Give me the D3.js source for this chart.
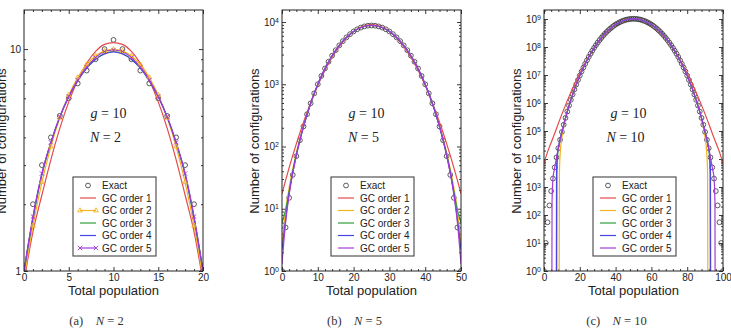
<!DOCTYPE html>
<html>
<head>
<meta charset="utf-8">
<script src="https://cdn.jsdelivr.net/npm/d3@7"></script>
<style>
  body { margin: 0; background: #fff; }
  svg { display: block; }
  text { font-family: "Liberation Sans", Arial, Helvetica, sans-serif; fill: #222; }
  .serif { font-family: "Liberation Serif", "Times New Roman", serif; }
</style>
</head>
<body>
<svg id="chart" width="731" height="334"></svg>
<script>
// ---- data ----
const legendLabels = ['Exact', 'GC order 1', 'GC order 2', 'GC order 3', 'GC order 4', 'GC order 5']
const orderColors = ['#e34a4a', '#f2b320', '#2f9e3a', '#4545e4', '#a53bd6']

// (a) N = 2
const popA = [0, 1, 2, 3, 4, 5, 6, 7, 8, 9, 10, 11, 12, 13, 14, 15, 16, 17, 18, 19, 20]
const exactA = [1, 2, 3, 4, 5, 6, 7, 8, 9, 10, 11, 10, 9, 8, 7, 6, 5, 4, 3, 2, 1]
const gc1A = [0.9, 1.5, 2.2, 3.17, 4.39, 5.78, 7.23, 8.62, 9.76, 10.5, 10.7, 10.5, 9.76, 8.62, 7.23, 5.78, 4.39, 3.17, 2.2, 1.5, 0.9]
const gc2A = [0.93, 1.6, 2.51, 3.63, 4.9, 6.21, 7.45, 8.51, 9.31, 9.8, 9.97, 9.8, 9.31, 8.51, 7.45, 6.21, 4.9, 3.63, 2.51, 1.6, 0.93]
const gc3A = [1.0, 1.72, 2.72, 3.78, 4.95, 6.1, 7.2, 8.2, 9.0, 9.55, 9.75, 9.55, 9.0, 8.2, 7.2, 6.1, 4.95, 3.78, 2.72, 1.72, 1.0]
const gc4A = [1.0, 1.74, 2.74, 3.8, 4.95, 6.1, 7.2, 8.2, 9.0, 9.5, 9.7, 9.5, 9.0, 8.2, 7.2, 6.1, 4.95, 3.8, 2.74, 1.74, 1.0]
const gc5A = [1.0, 1.76, 2.75, 3.8, 4.95, 6.12, 7.25, 8.3, 9.15, 9.75, 9.9, 9.75, 9.15, 8.3, 7.25, 6.12, 4.95, 3.8, 2.75, 1.76, 1.0]

// (b) N = 5
const popB = [0, 1, 2, 3, 4, 5, 6, 7, 8, 9, 10, 11, 12, 13, 14, 15, 16, 17, 18, 19, 20, 21, 22, 23, 24, 25,
  26, 27, 28, 29, 30, 31, 32, 33, 34, 35, 36, 37, 38, 39, 40, 41, 42, 43, 44, 45, 46, 47, 48, 49, 50]
const exactB = [1, 5, 15, 35, 70, 126, 210, 330, 495, 715, 1001, 1360, 1795, 2305, 2885, 3526, 4215, 4935, 5665, 6380,
  7051, 7645, 8135, 8500, 8725, 8801, 8725, 8500, 8135, 7645, 7051, 6380, 5665, 4935, 4215, 3526, 2885, 2305, 1795,
  1360, 1001, 715, 495, 330, 210, 126, 70, 35, 15, 5, 1]
const gridB = [0, 1, 2, 3, 4, 5, 7.5, 10, 12.5, 15, 17.5, 20, 22.5, 25, 27.5, 30, 32.5, 35, 37.5, 40, 42.5, 45, 46, 47, 48, 49, 50]
const gc1B = [17.5, 28.6, 45.8, 71.9, 110, 166, 425, 958, 1905, 3343, 5177, 7076, 8537, 9086,
  8537, 7076, 5177, 3343, 1905, 958, 425, 166, 110, 71.9, 45.8, 28.6, 17.5]
const gc2B = [2.5, 9.25, 21.8, 43.6, 79.1, 134, 409, 994, 2020, 3512, 5307, 7063, 8341, 8810,
  8341, 7063, 5307, 3512, 2020, 994, 409, 134, 79.1, 43.6, 21.8, 9.25, 2.5]
const gc3B = [6, 9.5, 19, 40, 75, 128, 405, 1000, 2030, 3520, 5300, 7060, 8330, 8805,
  8330, 7060, 5300, 3520, 2030, 1000, 405, 128, 75, 40, 19, 9.5, 6]
const gc4B = [2.2, 6.7, 17.8, 38.1, 72, 127, 404, 1000, 2030, 3520, 5300, 7060, 8330, 8805,
  8330, 7060, 5300, 3520, 2030, 1000, 404, 127, 72, 38.1, 17.8, 6.7, 2.2]
const gc5B = [1.3, 6.0, 17, 37, 71, 127, 404, 1000, 2030, 3520, 5300, 7060, 8330, 8805,
  8330, 7060, 5300, 3520, 2030, 1000, 404, 127, 71, 37, 17, 6.0, 1.3]

// (c) N = 10
const popC = d3.range(0, 101)
const exactC = [1, 10, 55, 220, 715, 2002, 5005, 1.144e4, 2.431e4, 4.862e4, 9.238e4, 1.680e5, 2.938e5, 4.969e5, 8.150e5,
  1.300e6, 2.023e6, 3.075e6, 4.572e6, 6.664e6, 9.529e6, 1.338e7, 1.848e7, 2.511e7, 3.360e7, 4.429e7, 5.756e7, 7.380e7,
  9.338e7, 1.167e8, 1.439e8, 1.755e8, 2.114e8, 2.518e8, 2.967e8, 3.456e8, 3.984e8, 4.544e8, 5.129e8, 5.731e8, 6.339e8,
  6.942e8, 7.528e8, 8.084e8, 8.597e8, 9.056e8, 9.449e8, 9.766e8, 9.999e8, 1.014e9, 1.019e9,
  1.014e9, 9.999e8, 9.766e8, 9.449e8, 9.056e8, 8.597e8, 8.084e8, 7.528e8, 6.942e8, 6.339e8, 5.731e8, 5.129e8, 4.544e8,
  3.984e8, 3.456e8, 2.967e8, 2.518e8, 2.114e8, 1.755e8, 1.439e8, 1.167e8, 9.338e7, 7.380e7, 5.756e7, 4.429e7, 3.360e7,
  2.511e7, 1.848e7, 1.338e7, 9.529e6, 6.664e6, 4.572e6, 3.075e6, 2.023e6, 1.300e6, 8.150e5, 4.969e5, 2.938e5, 1.680e5,
  9.238e4, 4.862e4, 2.431e4, 1.144e4, 5005, 2002, 715, 220, 55, 10, 1]
const grid1C = [0, 2, 5, 10, 15, 20, 25, 30, 35, 40, 45, 50, 55, 60, 65, 70, 75, 80, 85, 90, 95, 98, 100]
const gc1C = [7.0e3, 1.8e4, 5.6e4, 4.0e5, 2.4e6, 1.15e7, 4.55e7, 1.40e8, 3.36e8, 6.28e8, 9.13e8, 1.035e9,
  9.13e8, 6.28e8, 3.36e8, 1.40e8, 4.55e7, 1.15e7, 2.4e6, 4.0e5, 5.6e4, 1.8e4, 7.0e3]
const grid2C = [8.45, 8.6, 9, 10, 12, 15, 20, 25, 30, 35, 40, 45, 50, 55, 60, 65, 70, 75, 80, 85, 88, 90, 91, 91.4, 91.55]
const gc2C = [0.3, 2800, 1.4e4, 6.0e4, 2.77e5, 1.35e6, 9.75e6, 4.45e7, 1.44e8, 3.46e8, 6.34e8, 9.06e8, 1.019e9,
  9.06e8, 6.34e8, 3.46e8, 1.44e8, 4.45e7, 9.75e6, 1.35e6, 2.77e5, 6.0e4, 1.4e4, 2800, 0.3]
const grid3C = [7.1, 7.2, 7.6, 8.5, 10, 12, 15, 20, 25, 30, 35, 40, 45, 50, 55, 60, 65, 70, 75, 80, 85, 88, 90, 91.5, 92.4, 92.8, 92.9]
const gc3C = [0.3, 3000, 1.4e4, 3.4e4, 9.2e4, 2.9e5, 1.3e6, 9.5e6, 4.43e7, 1.44e8, 3.46e8, 6.34e8, 9.06e8, 1.019e9,
  9.06e8, 6.34e8, 3.46e8, 1.44e8, 4.43e7, 9.5e6, 1.3e6, 2.9e5, 9.2e4, 3.4e4, 1.4e4, 3000, 0.3]
const grid4C = [6.9, 7.0, 7.4, 8.3, 10, 12, 15, 20, 25, 30, 35, 40, 45, 50, 55, 60, 65, 70, 75, 80, 85, 88, 90, 91.7, 92.6, 93.0, 93.1]
const gc4C = [0.3, 3000, 1.3e4, 3.2e4, 9.2e4, 2.9e5, 1.3e6, 9.5e6, 4.43e7, 1.44e8, 3.46e8, 6.34e8, 9.06e8, 1.019e9,
  9.06e8, 6.34e8, 3.46e8, 1.44e8, 4.43e7, 9.5e6, 1.3e6, 2.9e5, 9.2e4, 3.2e4, 1.3e4, 3000, 0.3]
const grid5C = [4.4, 4.5, 5, 6, 7, 8, 10, 12, 15, 20, 25, 30, 35, 40, 45, 50, 55, 60, 65, 70, 75, 80,
  85, 88, 90, 92, 93, 94, 95, 95.5, 95.6]
const gc5C = [0.3, 300, 2000, 5000, 1.14e4, 2.43e4, 9.24e4, 2.94e5, 1.3e6, 9.53e6, 4.43e7, 1.44e8, 3.46e8, 6.34e8, 9.06e8,
  1.019e9, 9.06e8, 6.34e8, 3.46e8, 1.44e8, 4.43e7, 9.53e6, 1.3e6, 2.94e5, 9.24e4, 2.43e4, 1.14e4, 5000, 2000, 300, 0.3]

// ---- layout ----
const svg = d3.select('#chart')
const plotTop = 10, plotBottom = 271

const panels = [
  { id: 'a', n: '2', left: 24, right: 203, xDomain: [0, 20], xMajor: [0, 5, 10, 15, 20], xStep: 1,
    yDomain: [1, 15], sup: false, yLabelX: 5.5, markers: true,
    exact: [popA, exactA], curves: [[popA, gc1A], [popA, gc2A], [popA, gc3A], [popA, gc4A], [popA, gc5A]] },
  { id: 'b', n: '5', left: 282, right: 461, xDomain: [0, 50], xMajor: [0, 10, 20, 30, 40, 50], xStep: 2,
    yDomain: [1, 1.56e4], sup: true, yLabelX: 259, markers: false,
    exact: [popB, exactB], curves: [[gridB, gc1B], [gridB, gc2B], [gridB, gc3B], [gridB, gc4B], [gridB, gc5B]] },
  { id: 'c', n: '10', left: 544, right: 723, xDomain: [0, 100], xMajor: [0, 20, 40, 60, 80, 100], xStep: 4,
    yDomain: [1, 2.1e9], sup: true, yLabelX: 521, markers: false,
    exact: [popC, exactC], curves: [[grid1C, gc1C], [grid2C, gc2C], [grid3C, gc3C], [grid4C, gc4C], [grid5C, gc5C]] }
]

function cleanAxis(sel) {
  sel.select('.domain').remove()
  sel.attr('font-family', null).attr('font-size', null)
  sel.selectAll('line').attr('stroke', '#222').attr('stroke-width', 0.9)
  sel.selectAll('text').style('font-size', '10px')
}

function drawPanel(p) {
  const x = d3.scaleLinear().domain(p.xDomain).range([p.left, p.right])
  const y = d3.scaleLog().domain(p.yDomain).range([plotBottom, plotTop])
  const g = svg.append('g')

  const clipId = 'clip-' + p.id
  g.append('clipPath').attr('id', clipId)
    .append('rect')
    .attr('x', p.left).attr('y', plotTop)
    .attr('width', p.right - p.left).attr('height', plotBottom - plotTop)

  const xMinor = d3.range(p.xDomain[0], p.xDomain[1] + 0.001, p.xStep).filter(v => !p.xMajor.includes(v))
  const decades = d3.range(0, Math.ceil(Math.log10(p.yDomain[1])) + 1)
  const yMajor = decades.map(k => Math.pow(10, k)).filter(v => v <= p.yDomain[1])
  const yMinor = []
  decades.forEach(k => d3.range(2, 10).forEach(m => {
    const v = m * Math.pow(10, k)
    if (v < p.yDomain[1]) yMinor.push(v)
  }))

  // x axes
  g.append('g').attr('transform', 'translate(0,' + plotBottom + ')')
    .call(d3.axisBottom(x).tickValues(p.xMajor).tickSizeInner(-4).tickSizeOuter(0).tickPadding(3).tickFormat(d3.format('d')))
    .call(cleanAxis)
  g.append('g').attr('transform', 'translate(0,' + plotBottom + ')')
    .call(d3.axisBottom(x).tickValues(xMinor).tickSizeInner(-2).tickSizeOuter(0).tickFormat(''))
    .call(cleanAxis)
  g.append('g').attr('transform', 'translate(0,' + plotTop + ')')
    .call(d3.axisTop(x).tickValues(p.xMajor).tickSizeInner(-4).tickSizeOuter(0).tickFormat(''))
    .call(cleanAxis)
  g.append('g').attr('transform', 'translate(0,' + plotTop + ')')
    .call(d3.axisTop(x).tickValues(xMinor).tickSizeInner(-2).tickSizeOuter(0).tickFormat(''))
    .call(cleanAxis)

  // y axes
  const left = g.append('g').attr('transform', 'translate(' + p.left + ',0)')
    .call(d3.axisLeft(y).tickValues(yMajor).tickSizeInner(-4).tickSizeOuter(0).tickPadding(3)
      .tickFormat(p.sup ? '' : d3.format('d')))
    .call(cleanAxis)
  if (p.sup) {
    left.selectAll('.tick text').each(function (d) {
      const t = d3.select(this)
      t.append('tspan').text('10')
      t.append('tspan').attr('dy', '-0.45em').style('font-size', '7px').text(Math.round(Math.log10(d)))
    })
  }
  g.append('g').attr('transform', 'translate(' + p.left + ',0)')
    .call(d3.axisLeft(y).tickValues(yMinor).tickSizeInner(-2).tickSizeOuter(0).tickFormat(''))
    .call(cleanAxis)
  g.append('g').attr('transform', 'translate(' + p.right + ',0)')
    .call(d3.axisRight(y).tickValues(yMajor).tickSizeInner(-4).tickSizeOuter(0).tickFormat(''))
    .call(cleanAxis)
  g.append('g').attr('transform', 'translate(' + p.right + ',0)')
    .call(d3.axisRight(y).tickValues(yMinor).tickSizeInner(-2).tickSizeOuter(0).tickFormat(''))
    .call(cleanAxis)

  // plot content
  const plot = g.append('g').attr('clip-path', 'url(#' + clipId + ')')

  plot.selectAll('circle.exact')
    .data(d3.zip(p.exact[0], p.exact[1]))
    .enter()
    .append('circle')
    .attr('class', 'exact')
    .attr('cx', d => x(d[0]))
    .attr('cy', d => y(d[1]))
    .attr('r', 2.4)
    .attr('fill', 'none')
    .attr('stroke', '#333')
    .attr('stroke-width', 0.8)

  const line = d3.line()
    .x(d => x(d[0]))
    .y(d => y(d[1]))
    .curve(d3.curveMonotoneX)

  p.curves.forEach((c, i) => {
    plot.append('path')
      .datum(d3.zip(c[0], c[1]))
      .attr('d', line)
      .attr('fill', 'none')
      .attr('stroke', orderColors[i])
      .attr('stroke-width', 1.2)
  })

  if (p.markers) {
    const inRange = d => d[1] >= p.yDomain[0]
    plot.selectAll('path.tri')
      .data(d3.zip(p.curves[1][0], p.curves[1][1]).filter(inRange))
      .enter()
      .append('path')
      .attr('class', 'tri')
      .attr('d', d3.symbol(d3.symbolTriangle2, 16))
      .attr('transform', d => 'translate(' + x(d[0]) + ',' + y(d[1]) + ')')
      .attr('fill', 'none')
      .attr('stroke', orderColors[1])
      .attr('stroke-width', 0.9)
    plot.selectAll('path.cross')
      .data(d3.zip(p.curves[4][0], p.curves[4][1]).filter(inRange))
      .enter()
      .append('path')
      .attr('class', 'cross')
      .attr('d', d3.symbol(d3.symbolX, 14))
      .attr('transform', d => 'translate(' + x(d[0]) + ',' + y(d[1]) + ')')
      .attr('fill', 'none')
      .attr('stroke', orderColors[4])
      .attr('stroke-width', 0.9)
  }

  // frame
  g.append('rect')
    .attr('x', p.left).attr('y', plotTop)
    .attr('width', p.right - p.left).attr('height', plotBottom - plotTop)
    .attr('fill', 'none')
    .attr('stroke', '#222')
    .attr('stroke-width', 1)

  // annotations
  const cx = (p.left + p.right) / 2
  const gText = g.append('text').attr('class', 'serif').attr('x', cx - 5).attr('y', 118)
    .attr('text-anchor', 'middle').style('font-size', '14px')
  gText.append('tspan').style('font-style', 'italic').text('g')
  gText.append('tspan').text(' = 10')
  const nText = g.append('text').attr('class', 'serif').attr('x', cx - 8).attr('y', 142)
    .attr('text-anchor', 'middle').style('font-size', '14px')
  nText.append('tspan').style('font-style', 'italic').text('N')
  nText.append('tspan').text(' = ' + p.n)

  // legend
  const lx = p.left + 49, ly = 177
  const legend = g.append('g').attr('transform', 'translate(' + lx + ',' + ly + ')')
  legend.append('rect')
    .attr('width', 83).attr('height', 79)
    .attr('fill', '#fff')
    .attr('stroke', '#444')
    .attr('stroke-width', 1.1)
  legendLabels.forEach((label, i) => {
    const ry = 8.5 + i * 12.5
    if (i === 0) {
      legend.append('circle').attr('cx', 15).attr('cy', ry).attr('r', 2.4)
        .attr('fill', 'none').attr('stroke', '#333').attr('stroke-width', 0.8)
    } else {
      legend.append('line').attr('x1', 7).attr('x2', 23).attr('y1', ry).attr('y2', ry)
        .attr('stroke', orderColors[i - 1]).attr('stroke-width', 1.2)
      if (p.markers && (i === 2 || i === 5)) {
        const sym = i === 2 ? d3.symbolTriangle2 : d3.symbolX
        ;[7, 23].forEach(sx => {
          legend.append('path')
            .attr('d', d3.symbol(sym, i === 2 ? 16 : 14))
            .attr('transform', 'translate(' + sx + ',' + ry + ')')
            .attr('fill', 'none').attr('stroke', orderColors[i - 1]).attr('stroke-width', 0.9)
        })
      }
    }
    legend.append('text').attr('x', 29).attr('y', ry + 3.6).style('font-size', '10px').text(label)
  })

  // axis titles
  g.append('text')
    .attr('x', cx).attr('y', 295)
    .attr('text-anchor', 'middle')
    .style('font-size', '13px')
    .text('Total population')
  g.append('text')
    .attr('transform', 'translate(' + p.yLabelX + ',141) rotate(-90)')
    .attr('text-anchor', 'middle')
    .style('font-size', '13px')
    .text('Number of configurations')

  // caption
  const cap = g.append('text').attr('class', 'serif')
    .attr('x', cx - 17).attr('y', 325)
    .attr('text-anchor', 'middle')
    .style('font-size', '12.5px')
    .style('fill', '#333')
  cap.append('tspan').text('(' + p.id + ')\u2003')
  cap.append('tspan').style('font-style', 'italic').text('N')
  cap.append('tspan').text(' = ' + p.n)
}

panels.forEach(drawPanel)
</script>
</body>
</html>
